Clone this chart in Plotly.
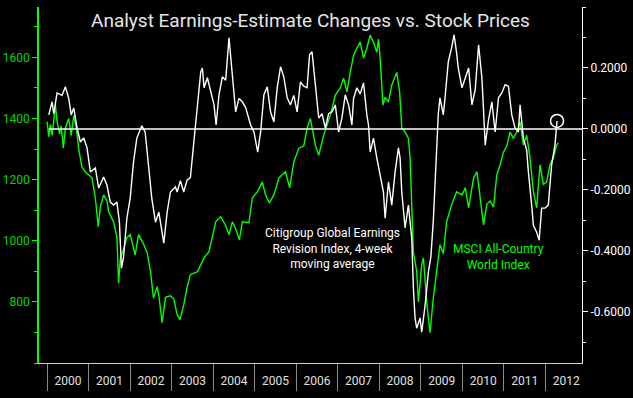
import plotly.graph_objects as go
from datetime import datetime

# ---- data (decimal years) ----
msci_t = [2000.00, 2000.04, 2000.08, 2000.12, 2000.20, 2000.24, 2000.30, 2000.34, 2000.39, 2000.44,
          2000.52, 2000.58, 2000.64, 2000.70, 2000.76, 2000.84, 2000.92, 2001.00, 2001.08, 2001.16,
          2001.23, 2001.28, 2001.36, 2001.44, 2001.48, 2001.60, 2001.68, 2001.72, 2001.76, 2001.82,
          2001.92, 2002.00, 2002.12, 2002.20, 2002.32, 2002.41, 2002.49, 2002.56, 2002.65, 2002.69,
          2002.77, 2002.85, 2002.97, 2003.05, 2003.13, 2003.20, 2003.29, 2003.37, 2003.45, 2003.62,
          2003.78, 2003.90, 2003.98, 2004.06, 2004.18, 2004.30, 2004.38, 2004.46, 2004.54, 2004.63,
          2004.70, 2004.86, 2004.94, 2005.06, 2005.18, 2005.26, 2005.35, 2005.46, 2005.58, 2005.74,
          2005.84, 2005.94, 2006.06, 2006.18, 2006.26, 2006.34, 2006.46, 2006.54, 2006.66, 2006.82,
          2006.94, 2007.06, 2007.14, 2007.22, 2007.30, 2007.38, 2007.46, 2007.54, 2007.62, 2007.70,
          2007.78, 2007.86, 2007.94, 2007.98, 2008.02, 2008.09, 2008.14, 2008.22, 2008.30, 2008.42,
          2008.49, 2008.54, 2008.62, 2008.70, 2008.74, 2008.82, 2008.90, 2008.94, 2009.02, 2009.06,
          2009.14, 2009.22, 2009.30, 2009.38, 2009.46, 2009.54, 2009.62, 2009.74, 2009.86, 2009.99,
          2010.07, 2010.15, 2010.27, 2010.35, 2010.43, 2010.51, 2010.59, 2010.67, 2010.75, 2010.83,
          2010.91, 2010.99, 2011.07, 2011.15, 2011.23, 2011.31, 2011.39, 2011.47, 2011.55, 2011.63,
          2011.71, 2011.79, 2011.87, 2011.95, 2012.03, 2012.11, 2012.19, 2012.27, 2012.31]
msci_values = [1390, 1341, 1380, 1345, 1444, 1390, 1350, 1375, 1303, 1370,
               1400, 1345, 1410, 1370, 1300, 1240, 1225, 1215, 1206, 1140,
               1046, 1110, 1150, 1130, 1095, 1062, 1010, 862, 940, 964,
               1010, 1020, 954, 1020, 990, 960, 898, 813, 850, 820,
               732, 815, 820, 810, 759, 742, 790, 847, 889, 899,
               944, 964, 1010, 1062, 1079, 1050, 1020, 1062, 1040, 1003,
               1062, 1059, 1140, 1160, 1192, 1150, 1124, 1150, 1206, 1226,
               1173, 1258, 1303, 1310, 1369, 1400, 1313, 1280, 1345, 1411,
               1477, 1500, 1532, 1487, 1551, 1607, 1630, 1650, 1598, 1630,
               1673, 1650, 1617, 1660, 1598, 1444, 1470, 1454, 1510, 1551,
               1486, 1369, 1356, 1336, 1271, 964, 898, 800, 921, 944,
               800, 699, 813, 911, 987, 958, 1062, 1118, 1160, 1150,
               1173, 1108, 1206, 1226, 1130, 1052, 1120, 1130, 1110, 1216,
               1249, 1290, 1310, 1356, 1335, 1356, 1389, 1313, 1345, 1271,
               1160, 1108, 1249, 1185, 1192, 1249, 1271, 1313, 1320]

citi_t = [2000.04, 2000.12, 2000.16, 2000.24, 2000.36, 2000.44, 2000.52, 2000.58, 2000.64, 2000.72,
          2000.80, 2000.88, 2000.96, 2001.04, 2001.16, 2001.24, 2001.36, 2001.44, 2001.52, 2001.60,
          2001.68, 2001.74, 2001.79, 2001.84, 2001.92, 2002.00, 2002.08, 2002.16, 2002.24, 2002.28,
          2002.36, 2002.44, 2002.52, 2002.61, 2002.69, 2002.81, 2002.89, 2002.97, 2003.09, 2003.13,
          2003.21, 2003.29, 2003.37, 2003.45, 2003.53, 2003.57, 2003.62, 2003.70, 2003.74, 2003.78,
          2003.86, 2003.94, 2004.02, 2004.07, 2004.14, 2004.22, 2004.30, 2004.38, 2004.46, 2004.54,
          2004.62, 2004.70, 2004.78, 2004.90, 2004.98, 2005.07, 2005.14, 2005.22, 2005.30, 2005.38,
          2005.46, 2005.54, 2005.62, 2005.70, 2005.78, 2005.86, 2005.94, 2006.02, 2006.10, 2006.18,
          2006.26, 2006.32, 2006.38, 2006.46, 2006.54, 2006.62, 2006.70, 2006.78, 2006.86, 2006.94,
          2007.02, 2007.10, 2007.18, 2007.26, 2007.34, 2007.38, 2007.46, 2007.54, 2007.62, 2007.70,
          2007.74, 2007.78, 2007.86, 2007.94, 2008.02, 2008.10, 2008.14, 2008.22, 2008.30, 2008.38,
          2008.46, 2008.50, 2008.54, 2008.62, 2008.70, 2008.78, 2008.82, 2008.86, 2008.90, 2008.98,
          2009.02, 2009.10, 2009.18, 2009.24, 2009.30, 2009.36, 2009.42, 2009.46, 2009.54, 2009.58,
          2009.66, 2009.74, 2009.80, 2009.86, 2009.90, 2009.99, 2010.07, 2010.15, 2010.23, 2010.31,
          2010.39, 2010.47, 2010.51, 2010.55, 2010.63, 2010.71, 2010.79, 2010.87, 2010.95, 2011.03,
          2011.11, 2011.19, 2011.27, 2011.35, 2011.39, 2011.47, 2011.55, 2011.59, 2011.67, 2011.71,
          2011.79, 2011.85, 2011.91, 2011.99, 2012.07, 2012.15, 2012.23, 2012.28]
citi_values = [0.046, 0.089, 0.050, 0.118, 0.110, 0.138, 0.100, 0.046, 0.069, 0.003,
               -0.043, -0.030, -0.062, -0.141, -0.128, -0.194, -0.158, -0.185, -0.240, -0.250,
               -0.240, -0.306, -0.457, -0.420, -0.293, -0.227, -0.108, -0.030, -0.003, 0.010,
               -0.010, -0.108, -0.227, -0.306, -0.273, -0.375, -0.273, -0.207, -0.190, -0.207,
               -0.170, -0.207, -0.168, -0.160, -0.053, 0.003, 0.056, 0.187, 0.200, 0.135,
               0.168, 0.120, 0.079, 0.013, 0.112, 0.171, 0.160, 0.299, 0.187, 0.056,
               0.100, 0.089, 0.070, 0.013, -0.010, -0.076, -0.010, 0.112, 0.138, 0.056,
               0.023, 0.135, 0.204, 0.170, 0.102, 0.079, 0.110, 0.056, 0.154, 0.140,
               0.135, 0.243, 0.253, 0.135, 0.036, 0.050, 0.003, 0.050, 0.056, 0.079,
               -0.010, 0.036, 0.112, 0.079, 0.013, 0.100, 0.135, 0.115, 0.151, 0.046,
               0.013, -0.076, -0.030, -0.095, -0.151, -0.207, -0.293, -0.174, -0.250, -0.141,
               -0.062, -0.095, -0.207, -0.325, -0.250, -0.358, -0.523, -0.621, -0.654, -0.620,
               -0.667, -0.580, -0.470, -0.420, -0.300, -0.120, 0.050, 0.102, 0.046, 0.100,
               0.220, 0.266, 0.309, 0.250, 0.200, 0.135, 0.171, 0.200, 0.079, 0.130,
               0.276, 0.168, 0.060, -0.053, 0.030, 0.089, -0.010, 0.102, 0.118, 0.145,
               0.140, 0.046, 0.003, -0.010, 0.079, -0.030, -0.070, -0.141, -0.250, -0.316,
               -0.339, -0.365, -0.260, -0.260, -0.250, -0.118, -0.053, 0.026]

left_ticks = [800, 1000, 1200, 1400, 1600]
right_ticks = [-0.6, -0.4, -0.2, 0.0, 0.2]
right_ticktext = ["-0.6000", "-0.4000", "-0.2000", "0.0000", "0.2000"]

title_text = "Analyst Earnings-Estimate Changes vs. Stock Prices"
citi_label = "Citigroup Global Earnings<br>Revision Index, 4-week<br>moving average"
msci_label = "MSCI All-Country<br>World Index"


def to_date(y):
    yr = int(y)
    start = datetime(yr, 1, 1)
    end = datetime(yr + 1, 1, 1)
    return start + (end - start) * (y - yr)


GREEN = "#00ff00"
GREEN_TXT = "#00d800"
WHITE = "#ffffff"
FONT = "Roboto"

msci_x = [to_date(t) for t in msci_t]
citi_x = [to_date(t) for t in citi_t]

fig = go.Figure()
fig.add_trace(go.Scatter(x=msci_x, y=msci_values, mode="lines",
                         line=dict(color=GREEN, width=1.4), yaxis="y", showlegend=False))
fig.add_trace(go.Scatter(x=citi_x, y=citi_values, mode="lines",
                         line=dict(color=WHITE, width=1.4), yaxis="y2", showlegend=False))
fig.add_trace(go.Scatter(x=[citi_x[-1]], y=[citi_values[-1]], mode="markers",
                         marker=dict(symbol="circle-open", size=13, color=WHITE, line=dict(width=1.5, color=WHITE)),
                         yaxis="y2", showlegend=False))

x_start = to_date(1999.805)
x_end = to_date(2012.88)

fig.add_shape(type="line", xref="x", yref="y2", x0=citi_x[0], x1=x_end, y0=0, y1=0,
              line=dict(color=WHITE, width=1.5), layer="above")

fig.update_layout(
    width=633, height=398,
    margin=dict(l=39, r=51, t=7, b=35),
    paper_bgcolor="black", plot_bgcolor="black",
    font=dict(family=FONT, size=12, color=WHITE),
    xaxis=dict(type="date", range=[x_start, x_end], dtick="M12", tick0="2000-01-01",
               ticklabelmode="period", tickformat="%Y", ticks="outside", ticklen=27,
               tickcolor="#8a8a8a", tickwidth=1, showline=True, linecolor="#d0d0d0", linewidth=1,
               showgrid=False, zeroline=False, tickfont=dict(color="#e0e0e0", size=12),
               ticklabelstandoff=-20, automargin=False),
    yaxis=dict(range=[600, 1765], tickvals=left_ticks, ticks="outside", ticklen=5,
               tickcolor=GREEN, showline=True, linecolor=GREEN, linewidth=1.5,
               showgrid=False, zeroline=False, tickfont=dict(color=GREEN_TXT, size=12),
               automargin=False,
               minor=dict(dtick=100, tick0=0, ticks="outside", ticklen=3, tickcolor=GREEN)),
    yaxis2=dict(range=[-0.768, 0.4], overlaying="y", side="right", tickvals=right_ticks,
                ticktext=right_ticktext, ticks="outside", ticklen=5, tickcolor=WHITE,
                showline=True, linecolor=WHITE, linewidth=1, showgrid=False, zeroline=False,
                tickfont=dict(color=WHITE, size=12), automargin=False,
                minor=dict(dtick=0.1, tick0=0, ticks="outside", ticklen=3, tickcolor=WHITE)),
    annotations=[
        dict(text=title_text, xref="paper", yref="paper", x=0.5, y=0.963, showarrow=False,
             xanchor="center", yanchor="middle", font=dict(size=19, color="#e6e6e6", family=FONT)),
        dict(text=citi_label, xref="paper", yref="paper", x=0.5396, y=0.323, showarrow=False,
             xanchor="center", yanchor="middle", align="center",
             font=dict(size=12, color=WHITE, family=FONT)),
        dict(text=msci_label, xref="paper", yref="paper", x=0.847, y=0.298, showarrow=False,
             xanchor="center", yanchor="middle", align="center",
             font=dict(size=12, color=GREEN, family=FONT)),
    ],
)

fig.write_html("out.html", config={"displayModeBar": False},
               post_script="document.body.style.margin='0';document.body.style.overflow='hidden';")
